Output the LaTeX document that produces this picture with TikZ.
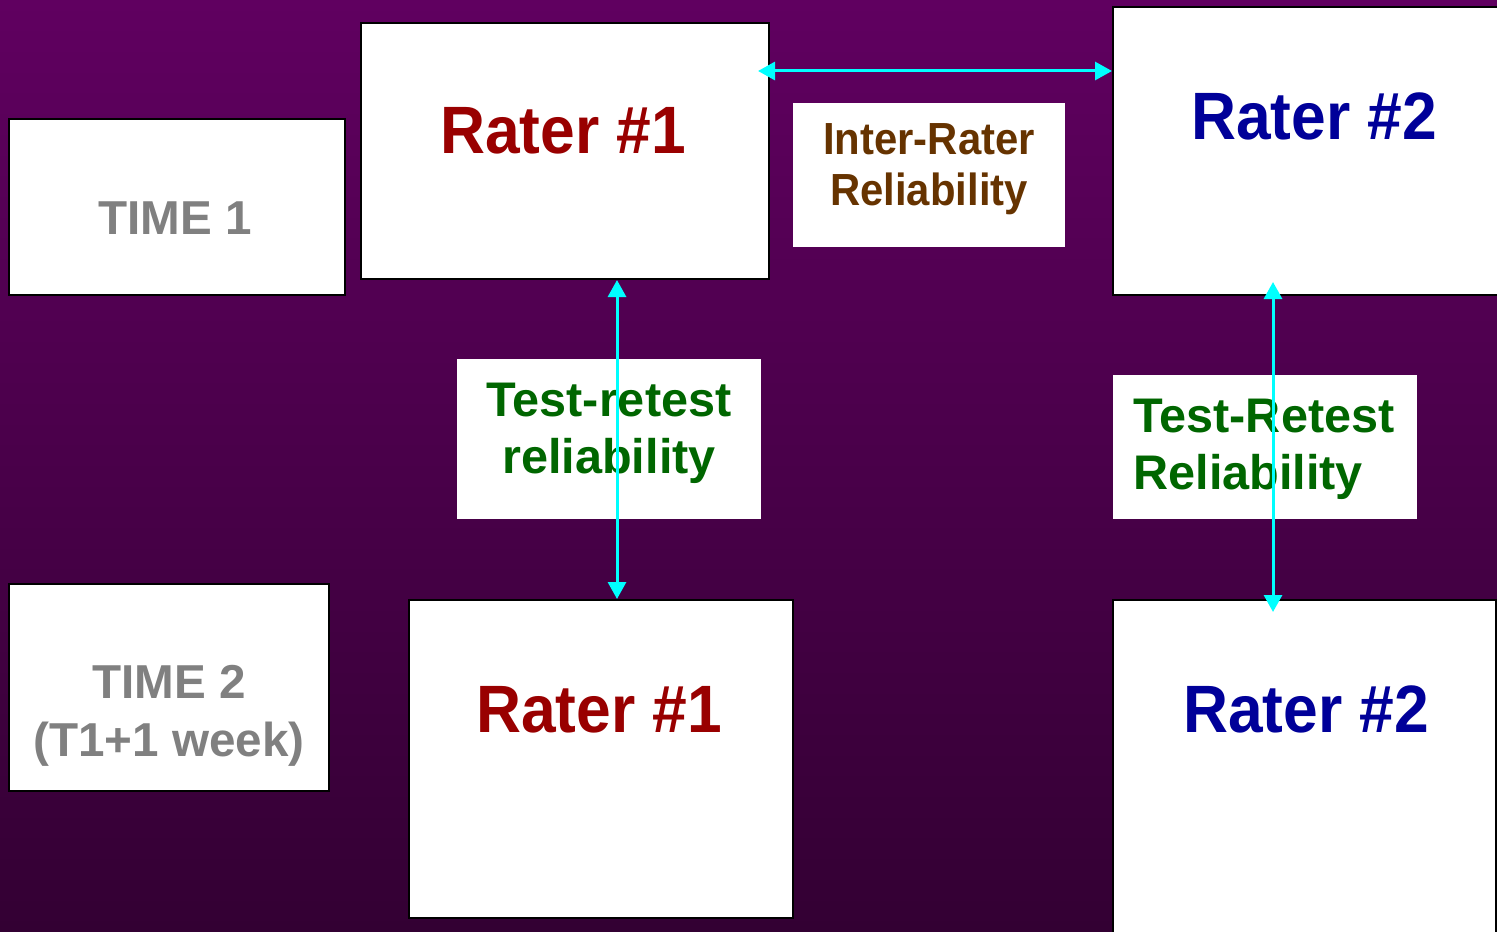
\documentclass[tikz,border=0pt]{standalone}
\usepackage{fontspec}
\setmainfont{Liberation Sans}
\newfontfamily\tallfont[FakeStretch=0.93]{Liberation Sans}
\usetikzlibrary{arrows.meta,fit}

\definecolor{bgtop}{HTML}{600060}
\definecolor{bgbottom}{HTML}{330033}
\definecolor{raterred}{HTML}{990000}
\definecolor{raterblue}{HTML}{000099}
\definecolor{timegray}{HTML}{808080}
\definecolor{interbrown}{HTML}{663300}
\definecolor{retestgreen}{HTML}{006600}
\definecolor{linkcyan}{HTML}{00FFFF}

\tikzset{
  box/.style={draw=black, line width=1pt, fill=white, inner sep=0pt},
  tag/.style={fill=white, inner sep=0pt},
  rater/.style={font=\tallfont\bfseries\fontsize{33.5}{40}\selectfont, inner sep=0pt, anchor=base},
  timetxt/.style={font=\bfseries\fontsize{23.8}{29}\selectfont, text=timegray, align=center, inner sep=0pt},
  intertxt/.style={font=\tallfont\bfseries\fontsize{22.5}{25.5}\selectfont, text=interbrown, align=center, inner sep=0pt},
  retesttxt/.style={font=\bfseries\fontsize{24.3}{28.5}\selectfont, text=retestgreen, inner sep=0pt},
  link/.style={linkcyan, line width=1.5pt,
    {Triangle[length=8.5pt,width=9pt]}-{Triangle[length=8.5pt,width=9pt]}}
}

\begin{document}
\begin{tikzpicture}[x=0.5pt, y=-0.5pt]
  \useasboundingbox (0,0) rectangle (1497,931);
  \clip (0,0) rectangle (1497,931);
  \shade[top color=bgtop, bottom color=bgbottom] (0,0) rectangle (1497,931);

  % boxes
  \node[box, fit={(9,119) (345,295)}] (time1) {};
  \node[box, fit={(361,23) (769,279)}] (r1top) {};
  \node[tag, fit={(793,103) (1065,247)}] (inter) {};
  \node[box, fit={(1113,7) (1510,295)}] (r2top) {};
  \node[tag, fit={(457,359) (761,519)}] (retestl) {};
  \node[box, fit={(9,584) (329,791)}] (time2) {};
  \node[box, fit={(409,600) (793,918)}] (r1bot) {};
  \node[tag, fit={(1113,375) (1417,519)}] (retestr) {};
  \node[box, fit={(1113,600) (1496,945)}] (r2bot) {};

  % texts
  \node[timetxt] (t1txt) at (175,218) {TIME 1};
  \node[timetxt] (t2txt) at (169,716) {TIME 2\\(T1+1 week)};
  \node[rater, text=raterred] (r1toptxt) at (563,153) {Rater \#1};
  \node[rater, text=raterblue] (r2toptxt) at (1314,140) {Rater \#2};
  \node[rater, text=raterred] (r1bottxt) at (599,732) {Rater \#1};
  \node[rater, text=raterblue] (r2bottxt) at (1306,732) {Rater \#2};
  \node[intertxt] (intertxt) at (929,169) {Inter-Rater\\Reliability};
  \node[retesttxt, align=center] (retestltxt) at (609,433) {Test-retest\\reliability};
  \node[retesttxt, align=left, anchor=west] (retestrtxt) at (1133,449) {Test-Retest\\Reliability};

  % links
  \coordinate (lx) at (617,0);
  \coordinate (rx) at (1273,0);
  \coordinate (hy) at (0,71);
  \draw[link, shorten <=-6pt] (r1top.east |- hy) -- (r2top.west |- hy);
  \draw[link] (r1top.south -| lx) -- (r1bot.north -| lx);
  \draw[link, shorten <=-7pt, shorten >=-6.5pt] (r2top.south -| rx) -- (r2bot.north -| rx);
\end{tikzpicture}
\end{document}
